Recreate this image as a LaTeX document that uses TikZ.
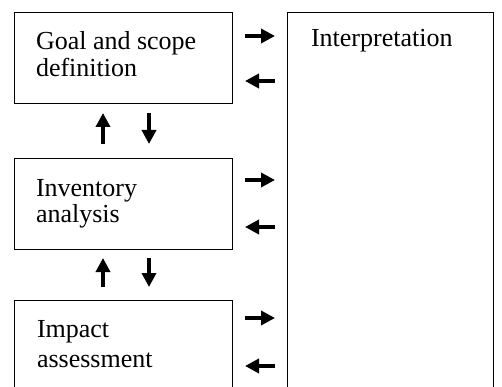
\documentclass[tikz,border=0pt]{standalone}
\usepackage{fontspec}
\setmainfont{Liberation Serif}
\usepackage{tikz}
\usetikzlibrary{arrows.meta}
\tikzset{>={Triangle[length=14pt,width=14pt]}}

\begin{document}
\begin{tikzpicture}[x=1pt, y=1pt]
        % stages on the left, interpretation box on the right
        \tikzstyle{every node}=[inner sep=0pt, outer sep=0pt]
        \tikzstyle{stage}=[draw=black, line width=0.9pt, rectangle, minimum width=218pt, minimum height=91pt]
        \tikzstyle{lbl}=[anchor=base west, align=left, font=\fontsize{26}{27}\selectfont]
        \tikzstyle{flow}=[->, line width=3.8pt]
        \useasboundingbox (0,0) rectangle (502,-387);

        \node[stage] (goal) at (123,-57.5) {};
        \node[stage] (inventory) at (123,-203.5) {};
        \node[stage, minimum height=100pt] (impact) at (123,-350) {};
        \node[stage, minimum width=206pt, minimum height=390pt] (interp) at (390,-207) {};

        % base of a two-line label sits on its last line
        \node[lbl] (goaltext) at (36,-77) {Goal and scope\\definition};
        \node[lbl, font=\fontsize{26}{25.5}\selectfont] (inventorytext) at (36,-222) {Inventory\\analysis};
        \node[lbl, font=\fontsize{26}{30}\selectfont] (impacttext) at (37,-367) {Impact\\assessment};
        \node[lbl] (interptext) at (311,-47) {Interpretation};

        % arrows to and from the interpretation box
        \coordinate (g1) at ([yshift=21.5pt]goal.east);
        \coordinate (g2) at ([yshift=-23.5pt]goal.east);
        \coordinate (i1) at ([yshift=23.5pt]inventory.east);
        \coordinate (i2) at ([yshift=-23.5pt]inventory.east);
        \coordinate (a1) at ([yshift=32pt]impact.east);
        \coordinate (a2) at ([yshift=-16pt]impact.east);
        \draw[flow, shorten <=13pt, shorten >=12pt] (g1) -- (g1 -| interp.west);
        \draw[flow, shorten <=12pt, shorten >=13pt] (g2 -| interp.west) -- (g2);
        \draw[flow, shorten <=13pt, shorten >=12pt] (i1) -- (i1 -| interp.west);
        \draw[flow, shorten <=12pt, shorten >=13pt] (i2 -| interp.west) -- (i2);
        \draw[flow, shorten <=13pt, shorten >=12pt] (a1) -- (a1 -| interp.west);
        \draw[flow, shorten <=12pt, shorten >=13pt] (a2 -| interp.west) -- (a2);

        % arrows between the stages
        \coordinate (u1) at ([xshift=-20pt]goal.south);
        \coordinate (d1) at ([xshift=26pt]goal.south);
        \coordinate (u2) at ([xshift=-20pt]inventory.south);
        \coordinate (d2) at ([xshift=26pt]inventory.south);
        \draw[flow, shorten <=14pt, shorten >=10pt] (u1 |- inventory.north) -- (u1);
        \draw[flow, shorten <=10pt, shorten >=14pt] (d1) -- (d1 |- inventory.north);
        \draw[flow, shorten <=13pt, shorten >=9pt] (u2 |- impact.north) -- (u2);
        \draw[flow, shorten <=9pt, shorten >=13pt] (d2) -- (d2 |- impact.north);
\end{tikzpicture}
\end{document}
